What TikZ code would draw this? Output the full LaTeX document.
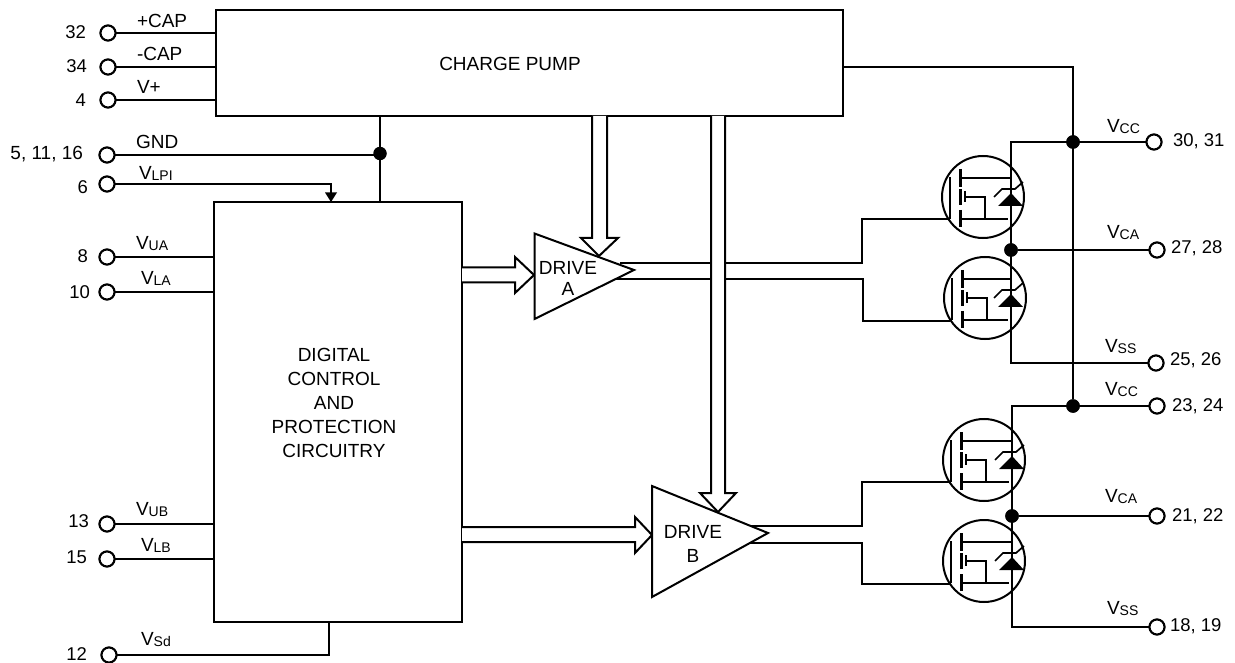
\documentclass[tikz,border=0pt]{standalone}
\usepackage{fontspec}
\setmainfont{Liberation Sans}
\newcommand{\VS}[1]{V\raisebox{-1pt}{\fontsize{14}{14}\selectfont #1}}
\tikzset{
  x=1pt,y=-1pt,
  every node/.style={font=\fontsize{19}{23.8}\selectfont,inner sep=0pt,outer sep=0pt},
  wire/.style={line width=2pt,line join=miter},
  block/.style={draw,line width=2pt,fill=white,anchor=north west},
  pin/.style={circle,draw,line width=2pt,fill=white,minimum size=15pt},
  dot/.style={circle,fill=black,minimum size=13.5pt},
  lab/.style={anchor=west},
  num/.style={anchor=east,font=\fontsize{18.5}{22}\selectfont},
  rnum/.style={anchor=west,font=\fontsize{18.5}{22}\selectfont},
  fat/.style={line width=2pt,line join=miter,fill=white},
  pics/mosfet/.style={code={
    \draw[line width=2pt,fill=white] (0,0) circle[radius=41];
    \draw[line width=2.8pt] (-22.5,-28)--(-22.5,-10) (-22.5,-8)--(-22.5,8) (-22.5,13)--(-22.5,30);
    \draw[line width=2pt] (-33,-20)--(-33,22) (-22.5,-19)--(#1,-19) (-22.5,22)--(#1-3,22);
    \draw[line width=2pt] (-18,0)--(2,0)--(2,22);
    \draw[line width=2.2pt] (-18,-6)--(-18,5);
    \draw[line width=2pt] (#1,-42)--(#1,40);
    \fill (#1,-4)--(#1-13,9)--(#1+12,9)--cycle;
    \draw[line width=1.7pt] (#1-17,0)--(#1-9,-8)--(#1+4,-8)--(#1+12,-15);
  }}
}
\begin{document}
\begin{tikzpicture}
\useasboundingbox (0,0) rectangle (1235,663);
% blocks
\node[block,minimum width=627pt,minimum height=106pt] (pump) at (216,10) {};
\node[block,minimum width=248.5pt,minimum height=419.5pt] (dig) at (213.5,202.5) {};
\node (pumpt) at (510,64) {CHARGE PUMP};
\node[align=center] (digt) at (334,403) {DIGITAL\\CONTROL\\AND\\PROTECTION\\CIRCUITRY};
% left pins
\foreach \n/\px/\py in {p32/108/33,p34/108/67,p4/108/100,p5/107/155,p6/107/184,p8/107/257,p10/107/292,p13/107/524,p15/107/559,p12/109/655}
  \node[pin] (\n) at (\px,\py) {};
\foreach \n in {p32,p34,p4} \draw[wire] (\n) -- (\n -| pump.west);
\foreach \n in {p8,p10,p13,p15} \draw[wire] (\n) -- (\n -| dig.west);
% numbers
\node[num] (n32) at (86,32) {32};
\node[num] (n34) at (87,66) {34};
\node[num] (n4) at (86,100) {4};
\node[num,font=\fontsize{19}{22}\selectfont] (n5) at (83,154) {5, 11, 16};
\node[num] (n6) at (88,187) {6};
\node[num] (n8) at (88,256) {8};
\node[num] (n10) at (90,292) {10};
\node[num] (n13) at (89,521) {13};
\node[num] (n15) at (87,557) {15};
\node[num] (n12) at (87,654) {12};
% labels
\node[lab] (lcp) at (137,21) {+CAP};
\node[lab] (lcm) at (137,54) {-CAP};
\node[lab] (lvp) at (137,87) {V+};
\node[lab] (lgnd) at (136,142) {GND};
\node[lab] (llpi) at (139,173) {\VS{LPI}};
\node[lab] (lua) at (136,244) {\VS{UA}};
\node[lab] (lla) at (141,278) {\VS{LA}};
\node[lab] (lub) at (136,510) {\VS{UB}};
\node[lab] (llb) at (141,545) {\VS{LB}};
\node[lab] (lsd) at (141,640) {\VS{Sd}};
% GND, supply between blocks
\node[dot] (dgnd) at (380,153.5) {};
\draw[wire] (pump.south -| dgnd) -- (dig.north -| dgnd);
\draw[wire] (p5) -- (p5 -| dgnd);
\coordinate (lpi) at (331,184);
\draw[wire] (p6) -- (lpi) -- (331,194);
\fill (331,202) -- (325,192.5) -- (337,192.5) -- cycle;
\coordinate (sd) at (329,655);
\draw[wire] (p12) -- (sd) -- (sd |- dig.south);
\node[pin] at (p5) {}; \node[pin] at (p6) {}; \node[pin] at (p12) {};
\foreach \n in {p32,p34,p4,p8,p10,p13,p15} \node[pin] at (\n) {};
% drive outputs
\coordinate (aU) at (862,263); \coordinate (aL) at (863,279);
\coordinate (bU) at (862,526); \coordinate (bL) at (862,543);
\draw[wire] (620,263) -- (aU) -- (862,219) -- (950,219);
\draw[wire] (610,279) -- (aL) -- (863,321) -- (950,321);
\draw[wire] (750,526) -- (bU) -- (862,482) -- (950,482);
\draw[wire] (750,543) -- (bL) -- (862,584) -- (950,584);
% charge pump to drives (hollow arrows)
\coordinate (tipA) at (599,256);
\coordinate (tipB) at (718,512);
\draw[fat] (592,116) -- (592,238) -- (581,238) -- (tipA) -- (618,238) -- (607,238) -- (607,116);
\draw[fat] (711,116) -- (711,493) -- (700,493) -- (tipB) -- (736,493) -- (725,493) -- (725,116);
% digital to drives
\coordinate (inA) at (534,275);
\coordinate (inB) at (652,535);
\draw[fat] (462,267.5) -- (515,267.5) -- (515,257) -- (inA) -- (515,293) -- (515,282.5) -- (462,282.5);
\draw[fat] (462,527) -- (635,527) -- (635,517) -- (inB) -- (635,553) -- (635,542) -- (462,542);
% triangles
\draw[line width=2pt,fill=white,line join=miter] (534.5,233.5) -- (634,270) -- (534.5,319) -- cycle;
\draw[line width=2pt,fill=white,line join=miter] (652,486) -- (768,533) -- (652,597) -- cycle;
\node (drvA) at (568,268) {DRIVE};
\node (drvA2) at (568,289) {A};
\node (drvB) at (693,532) {DRIVE};
\node (drvB2) at (693,556) {B};
% MOSFETS
\pic at (983,197) {mosfet=28};
\pic at (985,298) {mosfet=26};
\pic at (984,460) {mosfet=28};
\pic at (984,561) {mosfet=28};
% right pins
\foreach \n/\px/\py in {r30/1154/142,r27/1157/250,r25/1156/363,r23/1157/406,r21/1157/516,r18/1157/627}
  \node[pin] (\n) at (\px,\py) {};
\coordinate (railA) at (1011,142);
\coordinate (railB) at (1012,406);
\node[dot] (dA) at (1011,250) {};
\node[dot] (dB) at (1012,516) {};
\node[dot] (dC1) at (1073,142) {};
\node[dot] (dC2) at (1073,406) {};
\draw[wire] (r30) -- (railA) -- (1011,363) -- (r25);
\draw[wire] (r23) -- (railB) -- (1012,627) -- (r18);
\draw[wire] (dA) -- (r27);
\draw[wire] (dB) -- (r21);
\draw[wire] (pump.east |- 0,67) -- (1073,67) -- (dC2);
\foreach \n in {r30,r27,r25,r23,r21,r18} \node[pin] at (\n) {};
\node[dot] at (dA) {}; \node[dot] at (dB) {}; \node[dot] at (dC1) {}; \node[dot] at (dC2) {};
% right labels
\node[lab] (lc1) at (1107,127) {\VS{CC}};
\node[lab] (lca1) at (1107,233) {\VS{CA}};
\node[lab] (ls1) at (1105,347) {\VS{SS}};
\node[lab] (lc2) at (1105,390) {\VS{CC}};
\node[lab] (lca2) at (1105,497) {\VS{CA}};
\node[lab] (ls2) at (1107,609) {\VS{SS}};
\node[rnum] (n30) at (1173,141) {30, 31};
\node[rnum] (n27) at (1171,248) {27, 28};
\node[rnum] (n25) at (1170,360) {25, 26};
\node[rnum] (n23) at (1172,406) {23, 24};
\node[rnum] (n21) at (1172,516) {21, 22};
\node[rnum] (n18) at (1170,626) {18, 19};
\end{tikzpicture}
\end{document}
